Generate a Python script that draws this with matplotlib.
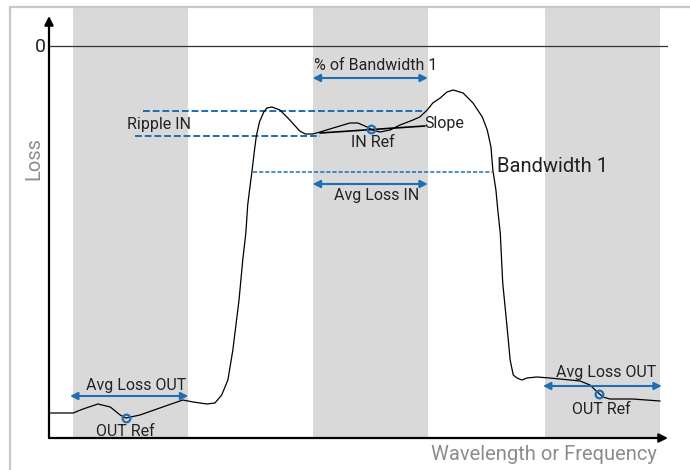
import numpy as np
import matplotlib
matplotlib.use("Agg")
import matplotlib.pyplot as plt
from matplotlib.patches import Rectangle

plt.rcParams['font.family'] = ['Roboto', 'DejaVu Sans']

# filter response (x: wavelength, arbitrary 0..100 ; y: loss, 0 at top)
wl = [-0.2, 3.9, 5.5, 7.9, 9.9, 11.5, 12.4, 14.7, 17.9, 21.6, 23.3, 25.5, 26.8, 27.9,
      28.9, 29.7, 30.2, 30.7, 31.3, 31.8, 32.1, 32.5, 32.8, 33.2, 33.5, 34.0, 34.7,
      35.2, 36.0, 37.3, 38.9, 40.5, 41.4, 42.6, 43.8, 45.9, 48.6, 49.9, 51.4, 52.2,
      53.5, 55.1, 56.7, 58.8, 59.9, 61.1, 62.0, 63.2, 64.3, 65.3, 66.9, 68.5, 70.0,
      70.8, 71.4, 71.7, 72.2, 72.5, 72.9, 73.3, 74.0, 74.5, 75.0, 75.6, 76.4, 77.2,
      78.8, 80.9, 84.2, 85.8, 87.4, 88.4, 89.5, 90.6, 94.3, 98.7]
loss = [-36.7, -36.7, -36.3, -35.8, -36.1, -36.9, -37.2, -36.9, -36.2, -35.4, -35.6,
        -35.8, -35.7, -34.9, -33.4, -30.4, -27.9, -25.4, -21.4, -18.7, -15.9, -13.9,
        -12.5, -10.4, -9.0, -7.6, -6.6, -6.2, -6.1, -6.4, -7.4, -8.5, -8.8, -8.8,
        -8.6, -8.2, -7.7, -7.7, -8.1, -8.4, -8.6, -8.4, -7.9, -7.4, -7.1, -6.4, -5.7,
        -5.2, -4.6, -4.4, -4.7, -5.7, -7.1, -8.4, -10.1, -12.4, -14.4, -16.4, -18.7,
        -23.7, -28.1, -31.4, -32.9, -33.2, -33.4, -33.2, -33.1, -33.2, -33.4, -33.5,
        -33.9, -34.5, -35.1, -35.3, -35.3, -35.5]

bands = [(3.9, 22.5), (42.6, 61.2), (80.1, 98.7)]

slope_x = [43.8, 60.7]
slope_y = [-8.7, -8.0]

ref_names = ["IN Ref", "OUT Ref", "OUT Ref"]
ref_x = [52.0, 12.4, 88.9]
ref_y = [-8.3, -37.2, -34.8]

# dashed levels: (y, x0, x1)
ripple_top = (-6.5, 15.2, 60.4)
ripple_bot = (-9.0, 13.9, 43.8)
avg_in_level = (-12.6, 33.0, 71.6)

# double arrows: (y, x0, x1)
arrows = [(-3.2, 42.6, 61.2), (-13.8, 42.6, 61.2), (-35.0, 3.4, 22.5), (-34.0, 79.8, 99.0)]

blue = '#1f6db2'
ink = '#222222'

fig = plt.figure(figsize=(6.9, 4.7), dpi=100)
ax = fig.add_axes([49/690, 1-438/470, 619/690, 431/470])
ax.set_xlim(0, 100)
ax.set_ylim(-39.2, 3.9)
ax.axis('off')

fig.add_artist(Rectangle((10/690, -0.1), 1.2, 1-7/470+0.1, transform=fig.transFigure,
                         fill=False, edgecolor='#c8c8c8', lw=1.6, clip_on=False))

for a, b in bands:
    ax.axvspan(a, b, color='#d9d9d9', lw=0, zorder=0)

ax.plot([0, 100], [0, 0], color='#333333', lw=0.9, zorder=2)

# axes with arrows
ax.annotate('', xy=(0, 3.0), xytext=(0, -39.2),
            arrowprops=dict(arrowstyle='-|>', color='black', lw=1.6, mutation_scale=13,
                            shrinkA=0, shrinkB=0), zorder=5)
ax.annotate('', xy=(100, -39.2), xytext=(0, -39.2),
            arrowprops=dict(arrowstyle='-|>', color='black', lw=1.6, mutation_scale=13,
                            shrinkA=0, shrinkB=0), zorder=5)

for lv, dsh, lw in [(ripple_top, (3.5, 1.5), 1.4), (ripple_bot, (3.5, 1.5), 1.4),
                    (avg_in_level, (2.7, 1.3), 1.1)]:
    ax.plot([lv[1], lv[2]], [lv[0], lv[0]], color=blue, lw=lw, dashes=dsh, zorder=3)

ax.plot(wl, loss, color='black', lw=0.9, zorder=4, solid_joinstyle='round')
ax.plot(slope_x, slope_y, color='black', lw=1.2, zorder=4)

for y, x0, x1 in arrows:
    ax.annotate('', xy=(x1, y), xytext=(x0, y),
                arrowprops=dict(arrowstyle='<|-|>', color=blue, lw=1.5, mutation_scale=11,
                                shrinkA=0, shrinkB=0), zorder=5)

ax.plot(ref_x, ref_y, 'o', ms=5.5, mfc='none', mec=blue, mew=1.6, zorder=6)

fs = 11.5
ax.text(52.7, -2.4, "% of Bandwidth 1", fontsize=fs, color=ink, ha='center', va='baseline')
ax.text(17.8, -8.3, "Ripple IN", fontsize=fs, color=ink, ha='center', va='baseline')
ax.text(52.3, -10.1, ref_names[0], fontsize=fs, color=ink, ha='center', va='baseline')
ax.text(60.7, -8.2, "Slope", fontsize=fs, color=ink, ha='left', va='baseline')
ax.text(72.4, -12.6, "Bandwidth 1", fontsize=14.5, color=ink, ha='left', va='baseline')
ax.text(53.0, -15.4, "Avg Loss IN", fontsize=fs, color=ink, ha='center', va='baseline')
ax.text(14.0, -34.4, "Avg Loss OUT", fontsize=fs, color=ink, ha='center', va='baseline')
ax.text(12.4, -39.0, ref_names[1], fontsize=fs, color=ink, ha='center', va='baseline')
ax.text(90.0, -33.1, "Avg Loss OUT", fontsize=fs, color=ink, ha='center', va='baseline')
ax.text(89.2, -36.8, ref_names[2], fontsize=fs, color=ink, ha='center', va='baseline')
ax.text(-0.5, -0.6, "0", fontsize=14, color=ink, ha='right', va='baseline')
ax.text(-2.4, -11.3, "Loss", fontsize=14.5, color='#8c8c8c', ha='center', va='center',
        rotation=90)
ax.text(98.2, -41.4, "Wavelength or Frequency", fontsize=14.5, color='#8c8c8c',
        ha='right', va='baseline')

fig.savefig('out.png', dpi=100, facecolor='white')
